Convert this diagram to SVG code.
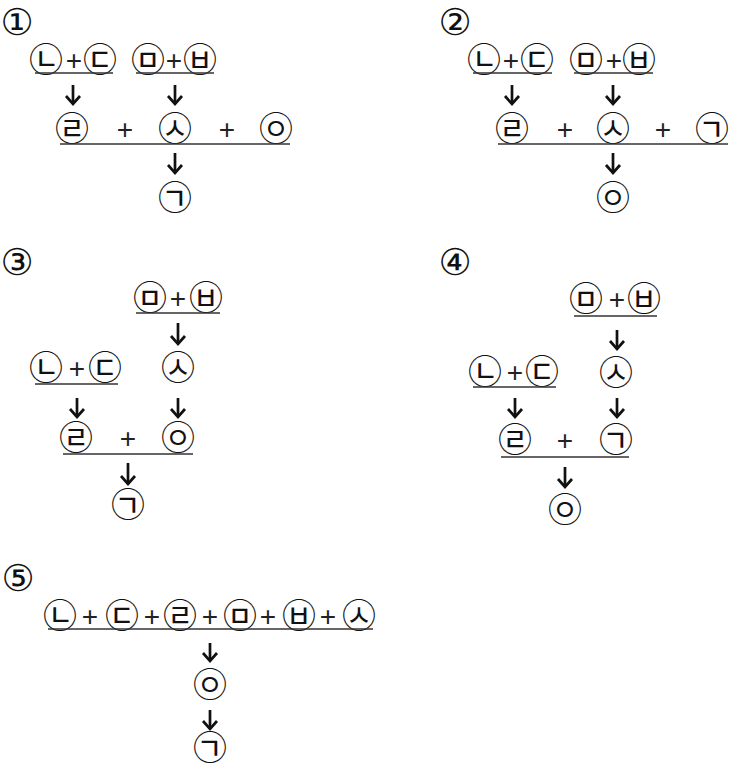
<svg xmlns="http://www.w3.org/2000/svg" width="735" height="769" viewBox="0 0 735 769">
<style>
.j{font-family:"Noto Sans CJK KR","Noto Sans CJK SC",sans-serif;font-size:34px;text-anchor:middle;fill:#111}
.p{font-family:"Liberation Sans",sans-serif;font-size:28px;text-anchor:middle;fill:#222}
.n{font-family:"DejaVu Sans","Noto Sans CJK KR",sans-serif;font-size:37px;text-anchor:middle;fill:#111}
.bar{stroke:#333;stroke-width:1.5}
.ar{stroke:#111;stroke-width:2.7;fill:none;marker-end:url(#ah)}
</style>
<defs>
<marker id="ah" viewBox="-10 -10 20 20" markerWidth="20" markerHeight="20" markerUnits="userSpaceOnUse" refX="0" refY="0" orient="auto" overflow="visible">
<path d="M-8,-7 L0,0 L-8,7" fill="none" stroke="#111" stroke-width="2.7"/>
</marker>
</defs>
<rect width="735" height="769" fill="#fff"/>

<g id="connectors">
<line class="ar" x1="73" y1="85" x2="73" y2="104"/>
<line class="ar" x1="175" y1="85" x2="175" y2="104"/>
<line class="ar" x1="175" y1="153" x2="175" y2="173"/>
<line class="ar" x1="512" y1="85" x2="512" y2="104"/>
<line class="ar" x1="613" y1="85" x2="613" y2="104"/>
<line class="ar" x1="613" y1="153" x2="613" y2="173"/>
<line class="ar" x1="178" y1="323" x2="178" y2="344"/>
<line class="ar" x1="77" y1="398" x2="77" y2="417"/>
<line class="ar" x1="178" y1="398" x2="178" y2="417"/>
<line class="ar" x1="128" y1="463" x2="128" y2="484"/>
<line class="ar" x1="617" y1="330" x2="617" y2="349"/>
<line class="ar" x1="515" y1="398" x2="515" y2="417"/>
<line class="ar" x1="617" y1="398" x2="617" y2="417"/>
<line class="ar" x1="565" y1="467" x2="565" y2="487"/>
<line class="ar" x1="210" y1="643" x2="210" y2="661"/>
<line class="ar" x1="210" y1="710" x2="210" y2="729"/>
</g>

<g id="panel1">
<text class="n" x="17" y="35">①</text>
<g id="p1-top-left"><text class="j" x="46" y="72">㉡</text><text class="p" x="74" y="70">+</text><text class="j" x="100" y="72">㉢</text><line class="bar" x1="35" y1="73" x2="113" y2="73"/></g>
<g id="p1-top-right"><text class="j" x="148" y="72">㉤</text><text class="p" x="174" y="70">+</text><text class="j" x="200" y="72">㉥</text><line class="bar" x1="136" y1="73" x2="214" y2="73"/></g>
<g id="p1-mid"><text class="j" x="72" y="141">㉣</text><text class="p" x="125" y="139">+</text><text class="j" x="175" y="141">㉦</text><text class="p" x="227" y="139">+</text><text class="j" x="276" y="141">㉧</text><line class="bar" x1="60" y1="144" x2="290" y2="144"/></g>
<g id="p1-result"><text class="j" x="175" y="210">㉠</text></g>
</g>

<g id="panel2">
<text class="n" x="455" y="35">②</text>
<g id="p2-top-left"><text class="j" x="484" y="72">㉡</text><text class="p" x="511" y="70">+</text><text class="j" x="537" y="72">㉢</text><line class="bar" x1="473" y1="73" x2="552" y2="73"/></g>
<g id="p2-top-right"><text class="j" x="586" y="72">㉤</text><text class="p" x="614" y="70">+</text><text class="j" x="639" y="72">㉥</text><line class="bar" x1="574" y1="73" x2="653" y2="73"/></g>
<g id="p2-mid"><text class="j" x="512" y="141">㉣</text><text class="p" x="565" y="139">+</text><text class="j" x="613" y="141">㉦</text><text class="p" x="663" y="139">+</text><text class="j" x="712" y="141">㉠</text><line class="bar" x1="498" y1="144" x2="728" y2="144"/></g>
<g id="p2-result"><text class="j" x="613" y="210">㉧</text></g>
</g>

<g id="panel3">
<text class="n" x="17" y="275">③</text>
<g id="p3-top"><text class="j" x="150" y="310">㉤</text><text class="p" x="178" y="308">+</text><text class="j" x="206" y="310">㉥</text><line class="bar" x1="136" y1="313" x2="220" y2="313"/></g>
<g id="p3-s"><text class="j" x="178" y="380">㉦</text></g>
<g id="p3-left"><text class="j" x="46" y="380">㉡</text><text class="p" x="77" y="378">+</text><text class="j" x="105" y="380">㉢</text><line class="bar" x1="35" y1="384" x2="118" y2="384"/></g>
<g id="p3-mid"><text class="j" x="76" y="450">㉣</text><text class="p" x="128" y="448">+</text><text class="j" x="178" y="450">㉧</text><line class="bar" x1="63" y1="454" x2="193" y2="454"/></g>
<g id="p3-result"><text class="j" x="128" y="517">㉠</text></g>
</g>

<g id="panel4">
<text class="n" x="455" y="275">④</text>
<g id="p4-top"><text class="j" x="586" y="311">㉤</text><text class="p" x="617" y="309">+</text><text class="j" x="644" y="311">㉥</text><line class="bar" x1="574" y1="316" x2="657" y2="316"/></g>
<g id="p4-s"><text class="j" x="616" y="385">㉦</text></g>
<g id="p4-left"><text class="j" x="485" y="384">㉡</text><text class="p" x="515" y="382">+</text><text class="j" x="542" y="384">㉢</text><line class="bar" x1="473" y1="387" x2="556" y2="387"/></g>
<g id="p4-mid"><text class="j" x="515" y="452">㉣</text><text class="p" x="565" y="450">+</text><text class="j" x="616" y="452">㉠</text><line class="bar" x1="501" y1="457" x2="629" y2="457"/></g>
<g id="p4-result"><text class="j" x="565" y="522">㉧</text></g>
</g>

<g id="panel5">
<text class="n" x="18" y="591">⑤</text>
<g id="p5-top"><text class="j" x="60" y="628">㉡</text><text class="p" x="90" y="626">+</text><text class="j" x="122" y="628">㉢</text><text class="p" x="152" y="626">+</text><text class="j" x="180" y="628">㉣</text><text class="p" x="210" y="626">+</text><text class="j" x="240" y="628">㉤</text><text class="p" x="268" y="626">+</text><text class="j" x="299" y="628">㉥</text><text class="p" x="328" y="626">+</text><text class="j" x="359" y="628">㉦</text><line class="bar" x1="48" y1="629" x2="373" y2="629"/></g>
<g id="p5-o"><text class="j" x="210" y="697">㉧</text></g>
<g id="p5-result"><text class="j" x="210" y="760">㉠</text></g>
</g>
</svg>
